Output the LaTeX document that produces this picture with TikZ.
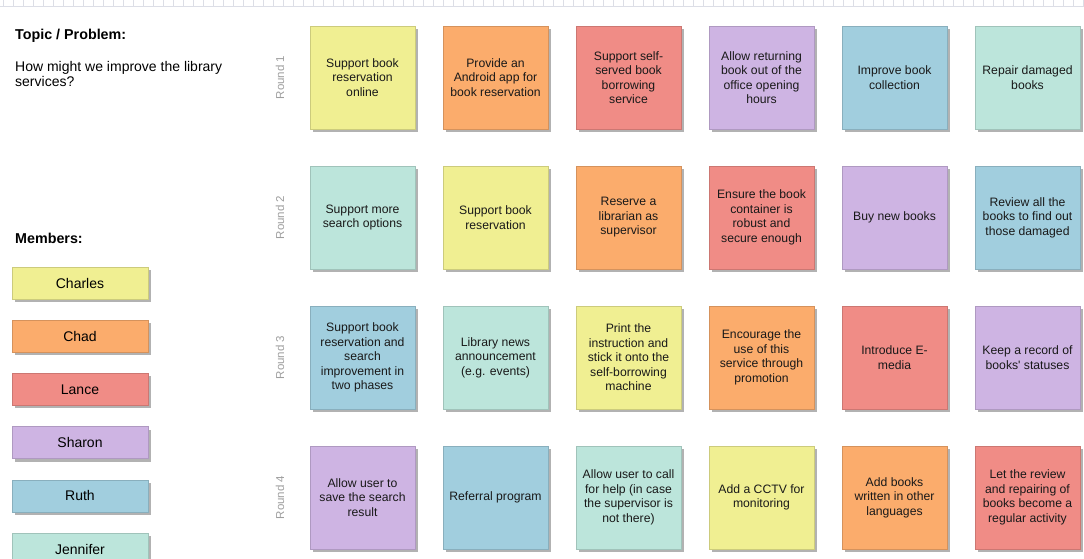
\documentclass[tikz,border=0pt]{standalone}
\usepackage{fontspec}
\setmainfont{Liberation Sans}
\usetikzlibrary{shadows}

\definecolor{nyellow}{RGB}{240,239,146}
\definecolor{norange}{RGB}{251,172,108}
\definecolor{nred}{RGB}{240,140,134}
\definecolor{npurple}{RGB}{206,180,227}
\definecolor{nblue}{RGB}{161,206,222}
\definecolor{nteal}{RGB}{188,229,219}
\definecolor{rulergray}{RGB}{220,222,230}

\begin{document}
\begin{tikzpicture}[x=1pt,y=-1pt]
  % Define styles for notes, members and labels
  \tikzset{
    note/.style={draw=#1!85!black, line width=.5pt, fill=#1, rectangle,
      minimum width=105pt, minimum height=103pt, align=center,
      text=black!90, font=\fontsize{12.2}{14.5}\selectfont,
      drop shadow={shadow xshift=3pt, shadow yshift=-3pt, fill=black, opacity=.3}},
    member/.style={draw=#1!85!black, line width=.5pt, fill=#1, rectangle,
      minimum width=136pt, minimum height=32pt,
      font=\fontsize{14}{16}\selectfont,
      drop shadow={shadow xshift=3pt, shadow yshift=-3pt, fill=black, opacity=.3}},
    heading/.style={anchor=west, inner sep=0pt, font=\fontsize{14.3}{16}\selectfont\bfseries},
    roundlabel/.style={rotate=90, text=black!38, font=\fontsize{11.5}{13}\selectfont},
    rulertick/.style={rulergray, line width=.6pt}
  }
  \useasboundingbox (0,0) rectangle (1084,559);

  % Ruler at the top
  \foreach \x in {3,13,...,1083}
    \draw[rulertick] (\x,0) -- (\x,6);
  \draw[rulertick] (0,6.5) -- (1084,6.5);

  % Topic and members
  \node (topic)[heading] at (15,36) {Topic / Problem:};
  \node (question)[anchor=west, inner sep=0pt, align=left,
    font=\fontsize{14}{15}\selectfont] at (15,73.5)
    {How might we improve the library\\services?};
  \node (members)[heading] at (15,238) {Members:};

  \foreach \i/\clr/\name in {1/nyellow/Charles,2/norange/Chad,3/nred/Lance,
                              4/npurple/Sharon,5/nblue/Ruth,6/nteal/Jennifer} {
    \node (member\i)[member=\clr] at (80, 229.8+53.2*\i) {\name};
  }

  % Round labels
  \foreach \row in {1,...,4} {
    \node (round\row)[roundlabel] at (280, -62.5+140*\row) {Round \row};
  }

  % Round 1
  \foreach \col/\clr/\txt in {
      1/nyellow/{Support book\\reservation\\online},
      2/norange/{Provide an\\Android app for\\book reservation},
      3/nred/{Support self-\\served book\\borrowing\\service},
      4/npurple/{Allow returning\\book out of the\\office opening\\hours},
      5/nblue/{Improve book\\collection},
      6/nteal/{Repair damaged\\books}} {
    \node (idea1\col)[note=\clr] at (229.5+133*\col, 77.5) {\txt};
  }

  % Round 2
  \foreach \col/\clr/\txt in {
      1/nteal/{Support more\\search options},
      2/nyellow/{Support book\\reservation},
      3/norange/{Reserve a\\librarian as\\supervisor},
      4/nred/{Ensure the book\\container is\\robust and\\secure enough},
      5/npurple/{Buy new books},
      6/nblue/{Review all the\\books to find out\\those damaged}} {
    \node (idea2\col)[note=\clr] at (229.5+133*\col, 217.5) {\txt};
  }

  % Round 3
  \foreach \col/\clr/\txt in {
      1/nblue/{Support book\\reservation and\\search\\improvement in\\two phases},
      2/nteal/{Library news\\announcement\\(e.g. events)},
      3/nyellow/{Print the\\instruction and\\stick it onto the\\self-borrowing\\machine},
      4/norange/{Encourage the\\use of this\\service through\\promotion},
      5/nred/{Introduce E-\\media},
      6/npurple/{Keep a record of\\books\textquotesingle{} statuses}} {
    \node (idea3\col)[note=\clr] at (229.5+133*\col, 357.5) {\txt};
  }

  % Round 4
  \foreach \col/\clr/\txt in {
      1/npurple/{Allow user to\\save the search\\result},
      2/nblue/{Referral program},
      3/nteal/{Allow user to call\\for help (in case\\the supervisor is\\not there)},
      4/nyellow/{Add a CCTV for\\monitoring},
      5/norange/{Add books\\written in other\\languages},
      6/nred/{Let the review\\and repairing of\\books become a\\regular activity}} {
    \node (idea4\col)[note=\clr] at (229.5+133*\col, 497.5) {\txt};
  }
\end{tikzpicture}
\end{document}
